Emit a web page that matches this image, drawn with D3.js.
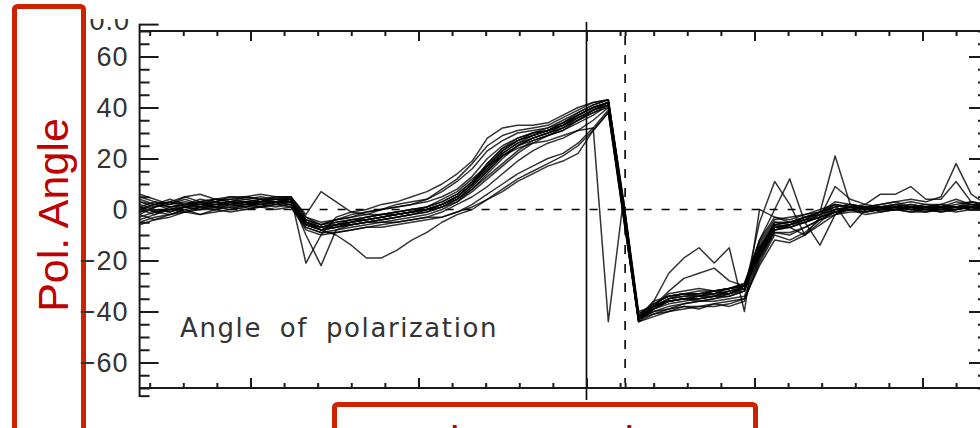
<!DOCTYPE html>
<html>
<head>
<meta charset="utf-8">
<script src="https://cdn.jsdelivr.net/npm/d3@7"></script>
<style>
  body { margin: 0; background: #fff; }
  svg { display: block; }
</style>
</head>
<body>
<svg id="chart" width="980" height="428"></svg>
<script>
// sample times (one sample every 0.9 units)
const sampleTimes = [-26.6, -25.7, -24.8, -23.9, -23.0, -22.1, -21.2, -20.3, -19.4, -18.5,
  -17.6, -16.7, -15.8, -14.9, -14.0, -13.1, -12.2, -11.3, -10.4, -9.5,
  -8.6, -7.7, -6.8, -5.9, -5.0, -4.1, -3.2, -2.3, -1.4, -0.5,
  0.4, 1.3, 2.2, 3.1, 4.0, 4.9, 5.8, 6.7, 7.6, 8.5,
  9.4, 10.3, 11.2, 12.1, 13.0, 13.9, 14.8, 15.7, 16.6, 17.5,
  18.4, 19.3, 20.2, 21.1, 22.0, 22.9, 23.8];

// angle of polarization, one array per run (degrees)
const run01 = [3,1,2,4,2,3,5,4,5,4,5, -3,-6,-4,-2,-1,0,1,2,4, 8,12,18,25,29,31,32,33,36,39, 42,43,3,-41, -37,-34,-33,-34,-32,-33,-30, -12,-3,-4,-2,0,2, 1,0,1,2,1,0,1,3,2,1];
const run02 = [-5,-3,-2,0,-2,-1,0,1,1,2,1, -8,-10,-9,-8,-7,-7,-6,-5,-4, -3,-1,2,6,10,14,17,20,22,26, 32,39,-3,-44, -41,-39,-38,-38,-37,-36,-35, -22,-12,-13,-10,-6,-2, 0,-2,-1,0,-1,-1,0,-1,0,1];
const run03 = [5,3,2,5,6,4,3,5,4,5,5, -21,-10,-3,-1,0,2,3,5,7, 10,14,19,28,32,33,33,34,37,40, 42,43,4,-40, -38,-33,-32,-31,-32,-31,-29, -14,-5,-5,-3,-1,1, 2,1,0,1,2,1,0,1,2,2];
const run04 = [1,-1,0,1,3,2,3,2,3,5,4, -10,-22,-8,-6,-5,-4,-3,-2,0, 2,5,10,18,24,27,29,31,33,37, 40,42,1,-43, -39,-35,-34,-33,-33,-31,-30, -15,-6,-5,-3,-2,0, 0,1,0,0,1,0,-1,0,1,0];
const run05 = [-2,1,3,1,2,4,3,2,4,3,5, -2,7,3,-1,-2,-2,-1,0,1, 3,6,11,17,23,27,30,32,34,37, 40,42,0,-42, -38,-36,-35,-34,-34,-32,-31, -18,-8,-7,-10,-3,-1, 1,0,0,1,0,0,1,1,0,0];
const run06 = [-2,-4,-2,-1,0,0,1,0,1,2,2, -6,-8,-10,-14,-19,-19,-16,-12,-9, -5,-2,0,4,8,12,15,18,21,25, 31,38,-1,-43, -40,-38,-37,-36,-35,-34,-32, -19,-8,-7,-5,-3,-1, 0,-1,0,0,1,0,0,1,0,0];
const run07 = [1,3,1,2,3,1,2,3,2,3,3, -6,-8,-6,-5,-4,-3,-2,-1,1, 4,7,12,17,21,24,26,27,29,31, 32,-44,4,-42, -38,-36,-35,-34,-33,-33,-31, -16,-6,-5,-4,-2,0, 1,0,1,0,1,1,2,1,1,0];
const run08 = [0,2,1,2,1,3,4,3,4,2,4, -4,-6,-5,-4,-3,-2,-1,0,0, 2,5,10,16,22,26,29,31,33,36, 39,42,1,-43, -36,-25,-19,-15,-21,-15,-40, 0,-3,-5,-3,-1,2, 1,0,1,1,0,1,1,1,1,0];
const run09 = [-1,0,-1,1,0,2,2,1,3,3,3, -6,-8,-7,-5,-4,-3,-2,-1,0, 1,4,9,15,21,25,28,30,32,35, 38,41,-1,-42, -38,-32,-27,-25,-23,-28,-30, -15,-6,-7,-5,-3,-1, 0,0,0,0,0,1,1,1,1,1];
const run10 = [3,2,4,2,3,4,4,5,4,4,4, -4,-7,-6,-5,-3,-2,-1,0,1, 3,6,11,18,24,28,30,31,34,37, 40,42,1,-43, -38,-35,-33,-33,-32,-31,-30, -16,-5,-6,-4,-1,21, 2,0,1,1,2,1,0,1,2,1];
const run11 = [-3,-1,0,-1,1,0,2,2,1,3,3, -5,-8,-6,-6,-5,-4,-3,-2,-1, 1,3,8,14,20,25,27,29,32,36, 39,41,-1,-44, -39,-36,-35,-35,-34,-32,-30, -18,-8,-6,-5,-3,0, 1,1,2,3,4,3,5,18,6,2];
const run12 = [0,-2,1,2,2,1,3,3,2,3,3, -5,-7,-6,-4,-4,-3,-2,-1,0, 2,5,10,16,22,26,28,30,33,36, 39,41,0,-43, -38,-36,-35,-35,-34,-34,-32, -5,11,2,-10,-5,0, 1,0,0,1,1,1,0,1,1,1];
const run13 = [-6,-4,-3,-1,-2,0,-1,0,1,0,1, -7,-9,-8,-7,-6,-5,-5,-4,-3, -3,-1,1,4,7,11,14,17,19,22, 31,38,-3,-43, -41,-40,-39,-38,-38,-37,-35, -21,-10,-12,-9,-4,-2, -1,-1,0,0,-1,0,0,0,1,0];
const run14 = [4,2,3,5,3,4,5,5,6,5,5, -3,-5,-4,-3,-2,0,1,2,3, 5,8,13,20,25,28,30,31,34,38, 41,43,3,-41, -37,-34,-33,-32,-32,-31,-29, -12,0,12,-5,-14,-2, 1,2,1,2,3,2,1,2,3,2];
const run15 = [1,-1,-2,0,1,2,2,1,2,3,2, -6,-8,-7,-6,-5,-4,-3,-2,-1, 1,4,9,15,21,25,28,30,32,35, 38,40,-2,-43, -39,-37,-36,-35,-34,-33,-31, -17,-7,-6,-4,-3,9, 4,2,6,6,9,4,4,11,3,1];
const run16 = [0,2,0,1,2,3,2,3,3,4,3, -5,-7,-6,-5,-4,-3,-2,-1,0, 2,5,10,17,23,27,29,31,33,37, 40,42,1,-42, -38,-35,-34,-34,-33,-32,-31, -17,-7,-7,-5,-2,2, -7,0,1,1,0,0,1,1,0,1];
const run17 = [2,0,-1,1,0,1,1,2,2,1,2, -7,-9,-9,-8,-7,-6,-5,-4,-3, -1,2,5,9,14,19,23,26,28,31, 35,40,-2,-44, -42,-40,-38,-39,-37,-38,-36, -20,-9,-9,-7,-4,-1, 0,1,-1,0,1,0,-1,0,1,0];
const run18 = [-4,-2,0,2,1,1,0,2,3,2,3, -4,-6,-4,-3,-1,0,2,3,4, 7,11,16,23,27,30,31,32,35,38, 41,43,2,-42, -36,-34,-33,-33,-32,-31,-30, -13,-4,-3,-2,-1,3, 2,1,2,3,1,2,2,1,3,2];
const run19 = [6,4,2,3,2,2,3,4,3,4,4, -5,-8,-7,-6,-5,-5,-4,-3,-2, 0,3,7,12,17,22,26,29,31,34, 37,41,-1,-43, -40,-39,-37,-36,-36,-35,-34, -19,-9,-10,-7,-4,-1, 0,-1,0,1,0,-1,0,0,1,2];
const run20 = [-1,1,3,2,4,3,2,3,2,3,4, -5,-7,-5,-4,-3,-2,-2,-1,0, 2,4,8,13,18,23,27,29,31,35, 39,42,0,-42, -39,-36,-35,-36,-35,-33,-32, -16,-7,-6,-3,-2,1, 2,1,1,2,1,1,2,4,2,1];
const runs = [run01, run02, run03, run04, run05, run06, run07, run08, run09, run10,
  run11, run12, run13, run14, run15, run16, run17, run18, run19, run20];

// ticks
const xMajor = [-20, -10, 0, 10, 20];
const xMinor = [-26, -24, -22, -18, -16, -14, -12, -8, -6, -4, -2, 2, 4, 6, 8, 12, 14, 16, 18, 22];
const yMajor = [-60, -40, -20, 0, 20, 40, 60];
const yMinor = [-70, -65, -55, -50, -45, -35, -30, -25, -15, -10, -5, 5, 10, 15, 25, 30, 35, 45, 50, 55, 65, 70];
const eventTime = 0;
const markTime = 2.3;

const svg = d3.select("#chart");

const x = d3.scaleLinear().domain([-26.6, 23.9]).range([139.6, 988]);
const y = d3.scaleLinear().domain([-70, 70]).range([388, 31]);

const axisColor = "#1a1a1a";

// red annotation boxes (slide overlay)
svg.append("rect")
  .attr("x", 14.5).attr("y", 6.5)
  .attr("width", 69).attr("height", 440)
  .attr("rx", 3)
  .attr("fill", "none")
  .attr("stroke", "#cc2200")
  .attr("stroke-width", 5);

svg.append("text")
  .attr("transform", "translate(68,215) rotate(-90)")
  .attr("text-anchor", "middle")
  .style("font-family", "'Liberation Sans', Arial, sans-serif")
  .style("font-size", "43px")
  .style("fill", "#c00000")
  .text("Pol. Angle");

svg.append("rect")
  .attr("x", 334.5).attr("y", 404.5)
  .attr("width", 421).attr("height", 60)
  .attr("rx", 3)
  .attr("fill", "none")
  .attr("stroke", "#cc2200")
  .attr("stroke-width", 5);

// axis title below, mostly outside the crop in the source
svg.append("text")
  .attr("x", 450).attr("y", 456)
  .style("font-family", "'Liberation Sans', Arial, sans-serif")
  .style("font-size", "43px")
  .style("fill", "#c00000")
  .text("image axis");

// reference lines
svg.append("line")
  .attr("x1", x(-26.6)).attr("x2", x(23.9))
  .attr("y1", y(0)).attr("y2", y(0))
  .attr("stroke", "#000").attr("stroke-width", 1.6)
  .attr("stroke-dasharray", "8,10");

svg.append("line")
  .attr("x1", x(markTime)).attr("x2", x(markTime))
  .attr("y1", y(68)).attr("y2", y(-68))
  .attr("stroke", "#000").attr("stroke-width", 1.6)
  .attr("stroke-dasharray", "9,10");

// curves
const line = d3.line()
  .x((d, i) => x(sampleTimes[i]))
  .y(d => y(d));

svg.append("g")
  .selectAll("path.run")
  .data(runs)
  .enter()
  .append("path")
  .attr("class", "run")
  .attr("d", line)
  .attr("fill", "none")
  .attr("stroke", "#000")
  .attr("stroke-opacity", 0.8)
  .attr("stroke-width", 1.5)
  .attr("stroke-linejoin", "round");

svg.append("line")
  .attr("x1", x(eventTime)).attr("x2", x(eventTime))
  .attr("y1", 22).attr("y2", 400)
  .attr("stroke", "#000").attr("stroke-width", 1.6);

// frame: top and bottom x axes with inward ticks
const styleAxis = function(g, width) {
  g.select(".domain").remove();
  g.selectAll(".tick line").attr("stroke", axisColor).attr("stroke-width", width);
  g.selectAll(".tick text").remove();
};

svg.append("g").attr("transform", "translate(0," + y(70) + ")")
  .call(d3.axisBottom(x).tickValues(xMinor.concat([markTime])).tickSize(5))
  .call(g => styleAxis(g, 2));
svg.append("g").attr("transform", "translate(0," + y(70) + ")")
  .call(d3.axisBottom(x).tickValues(xMajor).tickSize(10))
  .call(g => styleAxis(g, 2));
svg.append("g").attr("transform", "translate(0," + y(-70) + ")")
  .call(d3.axisTop(x).tickValues(xMinor.concat([markTime])).tickSize(5))
  .call(g => styleAxis(g, 2));
svg.append("g").attr("transform", "translate(0," + y(-70) + ")")
  .call(d3.axisTop(x).tickValues(xMajor).tickSize(10))
  .call(g => styleAxis(g, 2));

svg.append("line")
  .attr("x1", x(-26.6)).attr("x2", x(23.9))
  .attr("y1", y(70)).attr("y2", y(70))
  .attr("stroke", axisColor).attr("stroke-width", 2);
svg.append("line")
  .attr("x1", x(-26.6)).attr("x2", x(23.9))
  .attr("y1", y(-70)).attr("y2", y(-70))
  .attr("stroke", axisColor).attr("stroke-width", 2);

// left y axis
const left = x(-26.6);
svg.append("g").attr("transform", "translate(" + left + ",0)")
  .call(d3.axisLeft(y).tickValues(yMinor).tickSize(-10))
  .call(g => styleAxis(g, 2));

svg.append("g").attr("transform", "translate(" + left + ",0)")
  .call(d3.axisLeft(y).tickValues(yMajor).tickSize(-19).tickPadding(11).tickFormat(d3.format("d")))
  .call(g => {
    g.select(".domain").remove();
    g.selectAll(".tick line").attr("stroke", axisColor).attr("stroke-width", 2);
    g.selectAll(".tick text")
      .attr("fill", "#333")
      .style("font-family", "'Liberation Sans', Arial, sans-serif")
      .style("font-size", "27px")
      .style("letter-spacing", "1px");
  });

svg.append("line")
  .attr("x1", left).attr("x2", left)
  .attr("y1", y(72.8)).attr("y2", y(-73.5))
  .attr("stroke", axisColor).attr("stroke-width", 2);
svg.append("line")
  .attr("x1", left).attr("x2", left + 19)
  .attr("y1", y(72.5)).attr("y2", y(72.5))
  .attr("stroke", axisColor).attr("stroke-width", 2);
svg.append("line")
  .attr("x1", left).attr("x2", left + 10)
  .attr("y1", y(-73.2)).attr("y2", y(-73.2))
  .attr("stroke", axisColor).attr("stroke-width", 2);

// top label, partly hidden in the source
svg.append("clipPath").attr("id", "topcut")
  .append("rect").attr("x", 80).attr("y", 19).attr("width", 60).attr("height", 30);
svg.append("text")
  .attr("clip-path", "url(#topcut)")
  .attr("x", 130).attr("y", 30)
  .attr("text-anchor", "end")
  .attr("fill", "#333")
  .style("font-family", "'Liberation Sans', Arial, sans-serif")
  .style("font-size", "27px")
  .style("letter-spacing", "1px")
  .text("0.0");

// right y axis
svg.append("g").attr("transform", "translate(" + x(23.9) + ",0)")
  .call(d3.axisRight(y).tickValues(yMinor).tickSize(-10))
  .call(g => styleAxis(g, 2));
svg.append("g").attr("transform", "translate(" + x(23.9) + ",0)")
  .call(d3.axisRight(y).tickValues(yMajor).tickSize(-19))
  .call(g => styleAxis(g, 2));
svg.append("line")
  .attr("x1", x(23.9)).attr("x2", x(23.9))
  .attr("y1", y(70)).attr("y2", y(-70))
  .attr("stroke", axisColor).attr("stroke-width", 2);

// in-plot title
svg.append("text")
  .attr("x", 180).attr("y", 337)
  .attr("fill", "#333")
  .style("font-family", "'DejaVu Sans', sans-serif")
  .style("font-size", "26px")
  .style("letter-spacing", "1.6px")
  .style("word-spacing", "8px")
  .text("Angle of polarization");
</script>
</body>
</html>
